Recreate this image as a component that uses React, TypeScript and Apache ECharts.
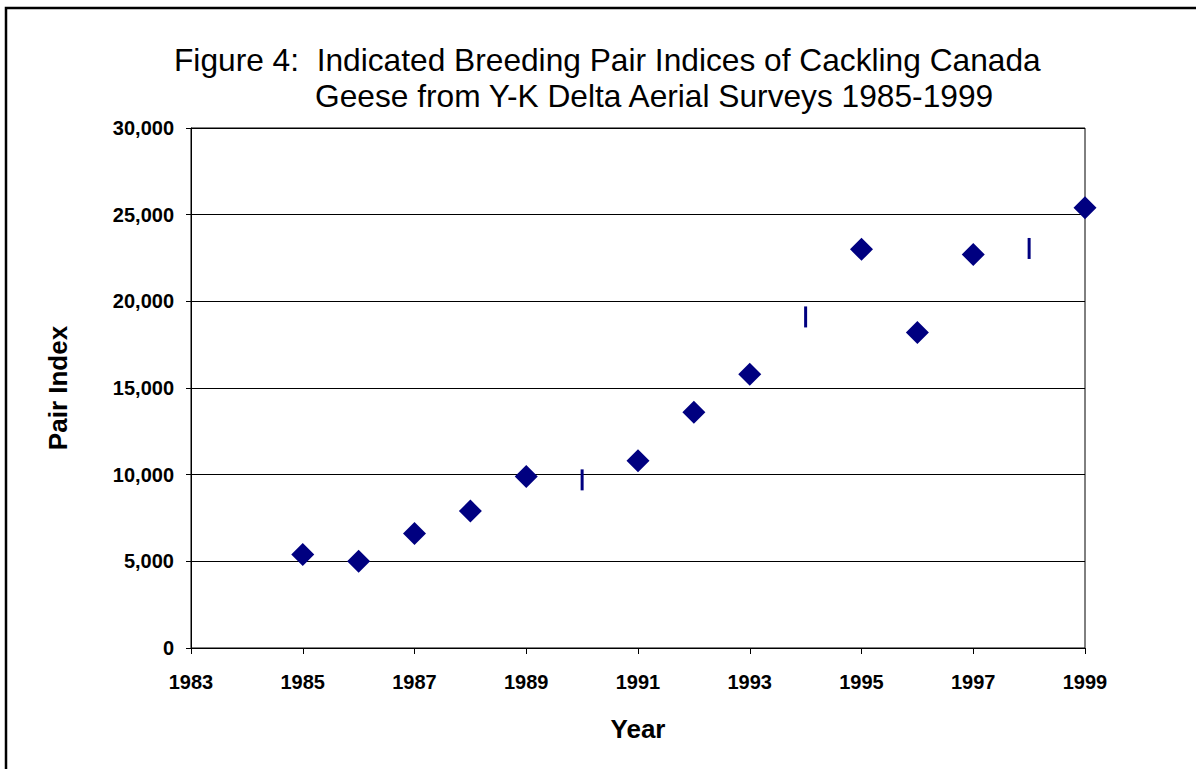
import React, { useEffect, useRef } from "react";
import * as echarts from "echarts";

const years = [1985, 1986, 1987, 1988, 1989, 1991, 1992, 1993, 1995, 1996, 1997, 1999];
const pairIndex = [5400, 5000, 6600, 7900, 9900, 10800, 13600, 15800, 23000, 18200, 22700, 25400];
const barYears = [1990, 1994, 1998];
const barValues = [9700, 19100, 23050];
const titleLine1 = "Figure 4:  Indicated Breeding Pair Indices of Cackling Canada";
const titleLine2 = "Geese from Y-K Delta Aerial Surveys 1985-1999";

export default function App() {
  const ref = useRef<HTMLDivElement>(null);
  useEffect(() => {
    const chart = echarts.init(ref.current!, null, { renderer: "svg" });
    const font = "Liberation Sans, Arial, sans-serif";
    chart.setOption({
      animation: false,
      backgroundColor: "#fff",
      title: [
        { text: titleLine1, left: 169, top: 39, textStyle: { fontFamily: font, fontSize: 31.7, fontWeight: "normal", color: "#000" } },
        { text: titleLine2, left: 310, top: 75, textStyle: { fontFamily: font, fontSize: 31.7, fontWeight: "normal", color: "#000" } },
      ],
      graphic: [
        { type: "rect", shape: { x: 6, y: 8, width: 1400, height: 900 }, style: { fill: "none", stroke: "#000", lineWidth: 2.5 }, silent: true },
      ],
      grid: { left: 191, top: 128, right: 111, bottom: 121, show: true, borderColor: "#000", borderWidth: 1, backgroundColor: "transparent" },
      xAxis: {
        type: "value", min: 1983, max: 1999, interval: 2,
        name: "Year", nameLocation: "middle", nameGap: 68,
        nameTextStyle: { fontFamily: font, fontSize: 26, fontWeight: "bold", color: "#000" },
        axisLine: { lineStyle: { color: "#000", width: 1 } },
        axisTick: { show: true, length: 6, lineStyle: { color: "#000" } },
        splitLine: { show: false },
        axisLabel: { margin: 24, fontFamily: font, fontSize: 20, fontWeight: "bold", color: "#000", formatter: (v: number) => String(v) },
      },
      yAxis: {
        type: "value", min: 0, max: 30000, interval: 5000,
        name: "Pair Index", nameLocation: "middle", nameGap: 120, nameRotate: 90,
        nameTextStyle: { fontFamily: font, fontSize: 26, fontWeight: "bold", color: "#000" },
        axisLine: { show: true, lineStyle: { color: "#000", width: 1 } },
        axisTick: { show: true, length: 5, lineStyle: { color: "#000" } },
        splitLine: { show: true, lineStyle: { color: "#000", width: 1 } },
        axisLabel: { margin: 17, fontFamily: font, fontSize: 20, fontWeight: "bold", color: "#000", formatter: (v: number) => v.toLocaleString("en-US") },
      },
      series: [
        {
          type: "scatter", symbol: "diamond", symbolSize: 23,
          itemStyle: { color: "#000080", opacity: 1 },
          data: years.map((y, i) => [y, pairIndex[i]]),
        },
        {
          type: "scatter", symbol: "rect", symbolSize: [3, 21],
          itemStyle: { color: "#000080", opacity: 1 },
          data: barYears.map((y, i) => [y, barValues[i]]),
        },
      ],
    });
    return () => chart.dispose();
  }, []);
  return <div ref={ref} style={{ position: "absolute", left: 0, top: 0, width: 1196, height: 769 }} />;
}
